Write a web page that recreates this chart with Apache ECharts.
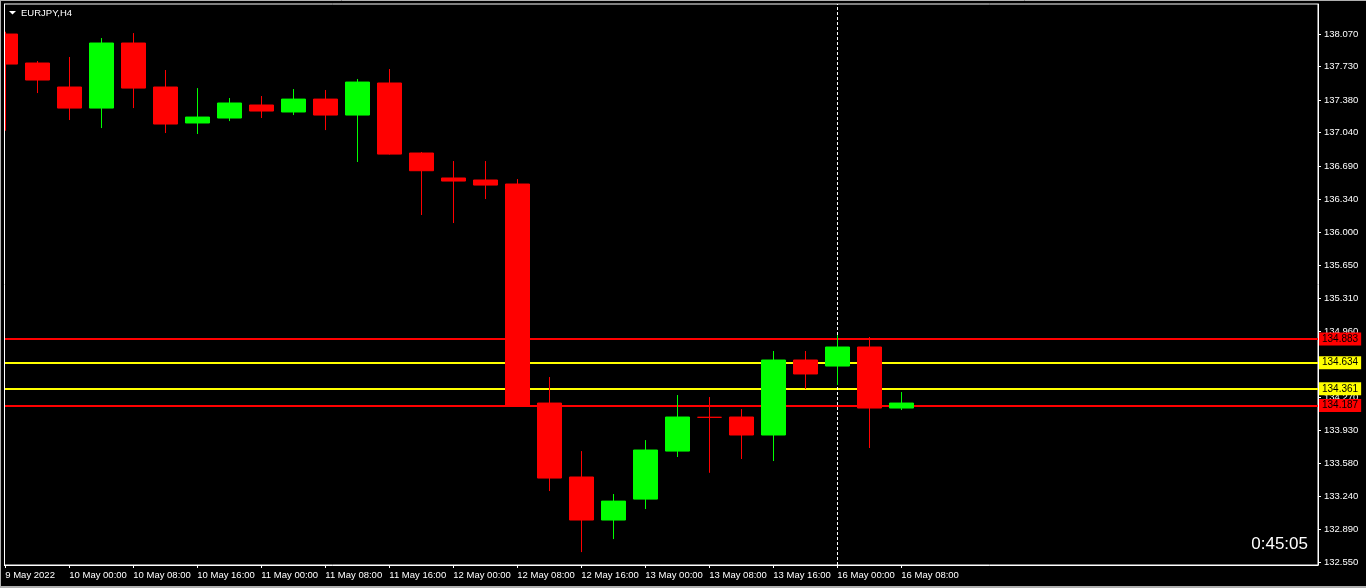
<!DOCTYPE html>
<html>
<head>
<meta charset="utf-8">
<script src="https://cdn.jsdelivr.net/npm/echarts@6/dist/echarts.min.js"></script>
<style>
html,body{margin:0;padding:0;background:#000;overflow:hidden;}
#c{width:1366px;height:588px;}
</style>
</head>
<body>
<div id="c"></div>
<script>
const symbolTitle = 'EURJPY,H4';
const clockText = '0:45:05';

const times = [
  '2022.05.09 16:00','2022.05.09 20:00','2022.05.10 00:00','2022.05.10 04:00','2022.05.10 08:00',
  '2022.05.10 12:00','2022.05.10 16:00','2022.05.10 20:00','2022.05.11 00:00','2022.05.11 04:00',
  '2022.05.11 08:00','2022.05.11 12:00','2022.05.11 16:00','2022.05.11 20:00','2022.05.12 00:00',
  '2022.05.12 04:00','2022.05.12 08:00','2022.05.12 12:00','2022.05.12 16:00','2022.05.12 20:00',
  '2022.05.13 00:00','2022.05.13 04:00','2022.05.13 08:00','2022.05.13 12:00','2022.05.13 16:00',
  '2022.05.13 20:00','2022.05.16 00:00','2022.05.16 04:00','2022.05.16 08:00'
];
const opens  = [138.070,137.767,137.516,137.296,137.976,137.516,137.140,137.192,137.328,137.255,
                137.390,137.223,137.558,136.826,136.565,136.544,136.502,134.212,133.439,132.989,
                133.208,133.710,134.063,134.066,133.878,134.662,134.599,134.798,134.160];
const closes = [137.756,137.589,137.296,137.976,137.505,137.129,137.202,137.349,137.265,137.390,
                137.223,137.568,136.815,136.641,136.533,136.491,134.187,133.428,132.989,133.187,
                133.721,134.066,134.063,133.878,134.662,134.516,134.798,134.160,134.212];
const lows   = [137.059,137.453,137.171,137.087,137.296,137.035,137.025,137.160,137.192,137.223,
                137.066,136.732,136.810,136.178,136.094,136.345,134.180,133.292,132.654,132.790,
                133.104,133.648,133.483,133.627,133.606,134.359,134.400,133.742,134.139];
const highs  = [138.094,137.788,137.830,138.028,138.080,137.694,137.505,137.401,137.422,137.495,
                137.485,137.600,137.704,136.836,136.742,136.742,136.554,134.484,133.710,133.261,
                133.825,134.296,134.275,134.149,134.756,134.756,134.923,134.902,134.327];

const xTickIdx    = [0,2,4,6,8,10,12,14,16,18,20,22,24,26,28];
const xTickLabels = ['9 May 2022','10 May 00:00','10 May 08:00','10 May 16:00','11 May 00:00',
                     '11 May 08:00','11 May 16:00','12 May 00:00','12 May 08:00','12 May 16:00',
                     '13 May 00:00','13 May 08:00','13 May 16:00','16 May 00:00','16 May 08:00'];
const yTicks = [132.55,132.89,133.24,133.58,133.93,134.27,134.62,134.96,135.31,135.65,
                136.00,136.34,136.69,137.04,137.38,137.73,138.07];

const levels      = [134.883, 134.634, 134.361, 134.187];
const levelColors = ['#ff0000', '#ffff00', '#ffff00', '#ff0000'];
const separatorIndex = 26;

const FONT = "'Liberation Sans', Arial, sans-serif";

const candleData = times.map((t, i) => [i, opens[i], closes[i], lows[i], highs[i]]);

const chart = echarts.init(document.getElementById('c'), null, {renderer: 'canvas'});

const markData = levels.map((v, i) => ({
  yAxis: v,
  lineStyle: {color: levelColors[i], width: 2, type: 'solid'},
  label: {backgroundColor: levelColors[i]}
}));
markData.push({
  xAxis: separatorIndex,
  lineStyle: {color: '#ffffff', width: 1, type: [3, 2]},
  label: {show: false}
});

chart.setOption({
  animation: false,
  backgroundColor: '#000000',
  grid: {
    left: 4, right: 48, top: 4, bottom: 23,
    show: true, borderColor: '#ffffff', borderWidth: 1, backgroundColor: '#000000'
  },
  xAxis: {
    type: 'value',
    min: -0.04,
    max: 41.02,
    axisLine: {show: true, onZero: false, lineStyle: {color: '#ffffff', width: 1}},
    axisTick: {show: true, length: 3, customValues: xTickIdx, lineStyle: {color: '#ffffff'}},
    axisLabel: {
      show: true, customValues: xTickIdx, align: 'left', margin: 5,
      color: '#ffffff', fontSize: 9.5, fontFamily: FONT,
      formatter: v => { const k = xTickIdx.indexOf(Math.round(v)); return k >= 0 ? xTickLabels[k] : ''; }
    },
    splitLine: {show: false}
  },
  yAxis: {
    type: 'value',
    position: 'right',
    scale: true,
    min: 132.519,
    max: 138.384,
    axisLine: {show: true, onZero: false, lineStyle: {color: '#ffffff', width: 1}},
    axisTick: {show: true, length: 3, customValues: yTicks, lineStyle: {color: '#ffffff'}},
    axisLabel: {
      show: true, customValues: yTicks, margin: 6,
      color: '#ffffff', fontSize: 9.5, fontFamily: FONT,
      formatter: v => Number(v).toFixed(3)
    },
    splitLine: {show: false}
  },
  series: [
    {
      type: 'line',
      name: 'levels',
      data: [],
      z: 1,
      silent: true,
      markLine: {
        z: 1,
        silent: true,
        symbol: ['none', 'none'],
        precision: 3,
        label: {
          show: true, position: 'end', distance: 1,
          color: '#000000', fontSize: 10, fontFamily: FONT,
          padding: [2, 3, 1, 3],
          formatter: p => (p.dataIndex < levels.length ? levels[p.dataIndex].toFixed(3) : '')
        },
        data: markData
      }
    },
    {
      type: 'candlestick',
      name: 'EURJPY',
      z: 3,
      barWidth: 24,
      clip: true,
      data: candleData,
      itemStyle: {
        color: '#00ff00',
        color0: '#ff0000',
        borderColor: '#00ff00',
        borderColor0: '#ff0000',
        borderColorDoji: '#ff0000',
        borderWidth: 1
      }
    }
  ],
  graphic: [
    {type: 'rect', z: 100, shape: {x: 0, y: 0, width: 4, height: 588}, style: {fill: '#000000'}, silent: true},
    {type: 'line', z: 101, shape: {x1: 4.5, y1: 4, x2: 4.5, y2: 565}, style: {stroke: '#ffffff', lineWidth: 1}, silent: true},
    {type: 'line', z: 101, shape: {x1: 0, y1: 0.5, x2: 1366, y2: 0.5}, style: {stroke: '#b0b0b0', lineWidth: 1}, silent: true},
    {type: 'line', z: 101, shape: {x1: 0.5, y1: 0, x2: 0.5, y2: 588}, style: {stroke: '#b0b0b0', lineWidth: 1}, silent: true},
    {type: 'line', z: 101, shape: {x1: 0, y1: 587, x2: 1366, y2: 587}, style: {stroke: '#b0b0b0', lineWidth: 2}, silent: true},
    {type: 'polygon', z: 101, shape: {points: [[9, 11], [16, 11], [12.5, 14.5]]}, style: {fill: '#ffffff'}, silent: true},
    {type: 'text', z: 101, left: 21, top: 8, style: {text: symbolTitle, fill: '#ffffff', font: '9.5px ' + FONT}, silent: true},
    {type: 'text', z: 101, right: 58, top: 536, style: {text: clockText, fill: '#ffffff', font: '17px ' + FONT}, silent: true}
  ]
});
</script>
</body>
</html>
